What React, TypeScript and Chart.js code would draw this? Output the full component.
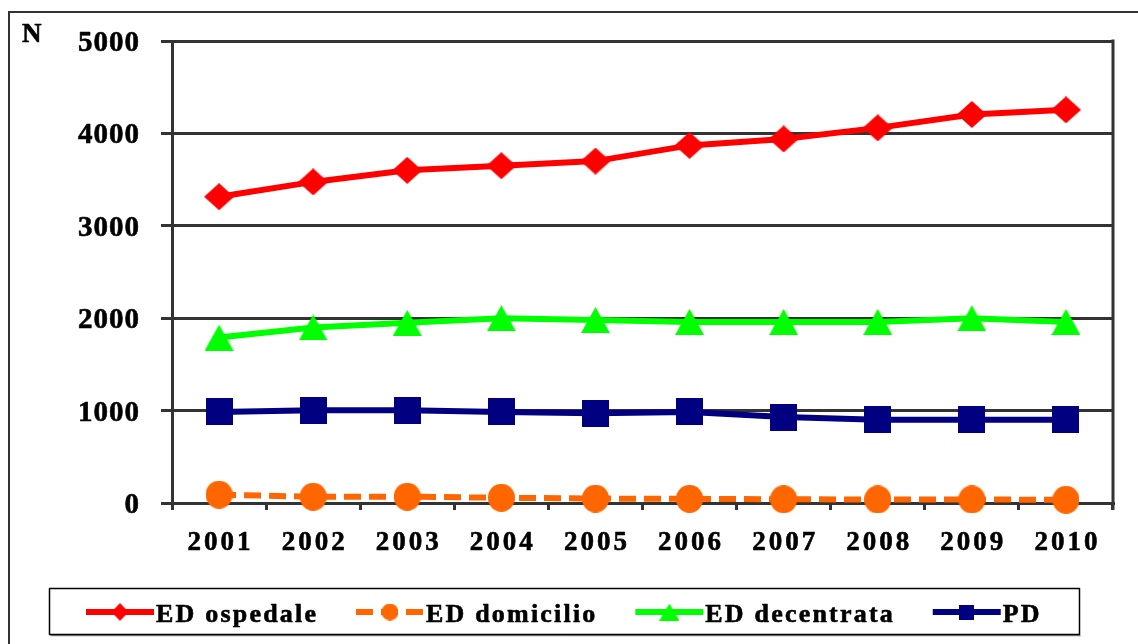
import React, { useEffect, useRef } from 'react';
import { Chart, registerables } from 'chart.js';

Chart.register(...registerables);

// ---- data ----
const years = ['2001', '2002', '2003', '2004', '2005', '2006', '2007', '2008', '2009', '2010'];
const edOspedale = [3315, 3475, 3600, 3650, 3700, 3870, 3940, 4060, 4205, 4255];
const edDomicilio = [90, 68, 68, 57, 48, 45, 40, 38, 38, 35];
const edDecentrata = [1790, 1900, 1950, 2000, 1980, 1960, 1960, 1960, 2000, 1960];
const pd = [985, 1005, 1005, 985, 970, 985, 930, 900, 900, 900];
const seriesNames = ['ED ospedale', 'ED domicilio', 'ED decentrata', 'PD'];
const yAxisTitle = 'N';
const yMin = 0;
const yMax = 5000;
const yStep = 1000;

const SERIF = "'Liberation Serif', 'Times New Roman', serif";
const AXIS = '#333333';

type Shape = 'diamond' | 'circle' | 'triangle' | 'square';

function makeMarker(shape: Shape, w: number, h: number, color: string): HTMLCanvasElement {
  const c = document.createElement('canvas');
  c.width = w;
  c.height = h;
  const g = c.getContext('2d')!;
  g.fillStyle = color;
  g.beginPath();
  if (shape === 'diamond') {
    g.moveTo(w / 2, 0);
    g.lineTo(w, h / 2);
    g.lineTo(w / 2, h);
    g.lineTo(0, h / 2);
  } else if (shape === 'circle') {
    g.ellipse(w / 2, h / 2, w / 2, h / 2, 0, 0, Math.PI * 2);
  } else if (shape === 'triangle') {
    g.moveTo(w / 2, 0);
    g.lineTo(w, h);
    g.lineTo(0, h);
  } else {
    g.rect(0, 0, w, h);
  }
  g.closePath();
  g.fill();
  return c;
}

function spacedWidth(ctx: CanvasRenderingContext2D, text: string, spacing: number) {
  let w = 0;
  for (const ch of text) w += ctx.measureText(ch).width;
  return w + spacing * Math.max(0, text.length - 1);
}

function drawSpaced(
  ctx: CanvasRenderingContext2D,
  text: string,
  x: number,
  y: number,
  spacing: number,
  align: 'left' | 'center' | 'right'
) {
  const total = spacedWidth(ctx, text, spacing);
  let cx = align === 'left' ? x : align === 'center' ? x - total / 2 : x - total;
  ctx.textAlign = 'left';
  for (const ch of text) {
    ctx.fillText(ch, cx, y);
    ctx.strokeText(ch, cx, y);
    cx += ctx.measureText(ch).width + spacing;
  }
  return total;
}

export default function App() {
  const ref = useRef<HTMLCanvasElement | null>(null);

  useEffect(() => {
    if (!ref.current) return;

    const colors = ['#FF0000', '#FF6600', '#00FF00', '#000080'];
    const shapes: Shape[] = ['diamond', 'circle', 'triangle', 'square'];
    const markerSizes: [number, number][] = [
      [30, 27],
      [27, 28],
      [29, 26],
      [27, 27],
    ];
    const legendSizes: [number, number][] = [
      [17, 18],
      [17, 17],
      [20, 17],
      [15, 15],
    ];
    const dashes: number[][] = [[], [17, 8], [], []];
    const values = [edOspedale, edDomicilio, edDecentrata, pd];

    const markers = shapes.map((s, i) => makeMarker(s, markerSizes[i][0], markerSizes[i][1], colors[i]));
    const legendMarkers = shapes.map((s, i) => makeMarker(s, legendSizes[i][0], legendSizes[i][1], colors[i]));

    const decorPlugin = {
      id: 'decor',
      beforeDraw(chart: any) {
        const ctx: CanvasRenderingContext2D = chart.ctx;
        ctx.save();
        ctx.fillStyle = '#ffffff';
        ctx.fillRect(0, 0, chart.width, chart.height);
        ctx.strokeStyle = AXIS;
        ctx.lineWidth = 2;
        ctx.strokeRect(9, 12, 1140, 700);
        ctx.restore();
      },
      afterDraw(chart: any) {
        const ctx: CanvasRenderingContext2D = chart.ctx;
        const area = chart.chartArea;
        const xs = chart.scales.x;
        const ys = chart.scales.y;
        ctx.save();
        ctx.strokeStyle = AXIS;
        ctx.lineWidth = 3;
        ctx.beginPath();
        ctx.moveTo(area.right, area.top - 1.5);
        ctx.lineTo(area.right, area.bottom + 7);
        ctx.stroke();

        ctx.fillStyle = '#000000';
        ctx.strokeStyle = '#000000';
        ctx.lineWidth = 0.6;
        ctx.lineJoin = 'round';
        ctx.textBaseline = 'alphabetic';

        ctx.font = `bold 27px ${SERIF}`;
        drawSpaced(ctx, yAxisTitle, 22, 41.5, 0, 'left');

        ctx.font = `bold 29px ${SERIF}`;
        ys.ticks.forEach((t: any, i: number) => {
          const py = ys.getPixelForTick(i);
          drawSpaced(ctx, String(t.value), 139, py + 10, 1, 'right');
        });

        ctx.font = `bold 27px ${SERIF}`;
        years.forEach((lab, i) => {
          const px = xs.getPixelForValue(i);
          drawSpaced(ctx, lab, px, 549.5, 3, 'center');
        });

        const lx = 49.5,
          ly = 588.5,
          lw = 1030,
          lh = 46;
        ctx.save();
        ctx.strokeStyle = '#000000';
        ctx.lineWidth = 1.5;
        ctx.strokeRect(lx, ly, lw, lh);
        ctx.strokeStyle = '#555555';
        ctx.lineWidth = 1;
        ctx.beginPath();
        ctx.moveTo(lx + 1, ly + lh + 1.2);
        ctx.lineTo(lx + lw + 1, ly + lh + 1.2);
        ctx.stroke();
        ctx.restore();

        ctx.font = `bold 26px ${SERIF}`;
        let cx = 86;
        const sy = 612;
        seriesNames.forEach((name, i) => {
          ctx.save();
          ctx.strokeStyle = colors[i];
          ctx.lineWidth = 6;
          ctx.setLineDash(dashes[i]);
          ctx.beginPath();
          ctx.moveTo(cx, sy);
          ctx.lineTo(cx + 68, sy);
          ctx.stroke();
          ctx.restore();
          const m = legendMarkers[i];
          ctx.drawImage(m, cx + 34 - m.width / 2, sy - m.height / 2);
          const w = drawSpaced(ctx, name, cx + 70, 622, 2.2, 'left');
          cx = cx + 70 + w + 40;
        });
        ctx.restore();
      },
    };

    const chart = new Chart(ref.current, {
      type: 'line',
      data: {
        labels: years,
        datasets: values.map((v, i) => ({
          label: seriesNames[i],
          data: v,
          borderColor: colors[i],
          backgroundColor: colors[i],
          borderWidth: 6,
          borderDash: dashes[i],
          tension: 0,
          fill: false,
          pointStyle: markers[i] as any,
          pointRadius: 14,
          pointHoverRadius: 14,
          clip: false as any,
        })),
      },
      options: {
        animation: false,
        responsive: false,
        devicePixelRatio: 1,
        events: [],
        layout: { padding: { left: 0, top: 41, right: 25, bottom: 0 } },
        plugins: {
          legend: { display: false },
          tooltip: { enabled: false },
          title: { display: false },
        },
        scales: {
          x: {
            type: 'category',
            offset: true,
            grid: {
              display: true,
              offset: true,
              drawOnChartArea: false,
              drawTicks: true,
              tickLength: 7,
              color: AXIS,
              lineWidth: 3,
            },
            border: { display: true, color: AXIS, width: 3 },
            ticks: { display: false },
            afterFit: (s: any) => {
              s.height = 141;
            },
          },
          y: {
            min: yMin,
            max: yMax,
            ticks: { display: false, stepSize: yStep },
            grid: { color: AXIS, lineWidth: 3, drawTicks: true, tickLength: 11 },
            border: { display: true, color: AXIS, width: 3 },
            afterFit: (s: any) => {
              s.width = 172;
            },
          },
        },
      },
      plugins: [decorPlugin],
    });

    return () => chart.destroy();
  }, []);

  return (
    <canvas
      ref={ref}
      width={1138}
      height={644}
      style={{ position: 'absolute', left: 0, top: 0, width: 1138, height: 644 }}
    />
  );
}
